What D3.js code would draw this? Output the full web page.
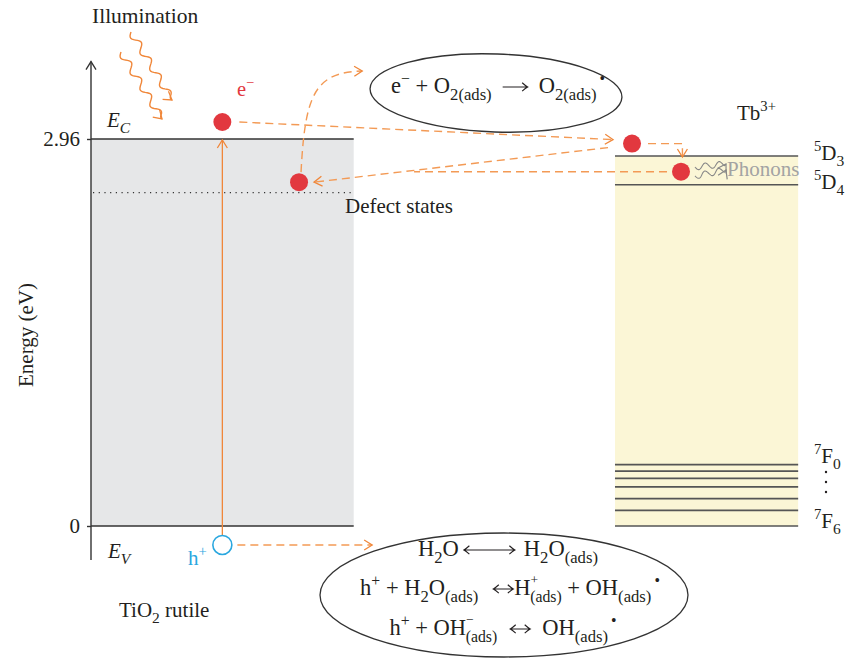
<!DOCTYPE html>
<html><head><meta charset="utf-8">
<script src="https://cdn.jsdelivr.net/npm/d3@7"></script>
<style>
html,body{margin:0;padding:0;background:#fff;}
svg text{font-family:"Liberation Serif","DejaVu Serif",serif;white-space:pre;}
</style></head>
<body><svg id="c" width="848" height="660"></svg>
<script>
// ---------------- data ----------------
const axisTicks = [0, 2.96];               // E_V, E_C (eV)
const axisRange = [-0.26, 3.56];
const defectLevel = 2.55;                   // defect states (dotted)
const tbExcited = [2.83, 2.61];             // 5D3, 5D4
const tbGround = [0.47, 0.42, 0.365, 0.30, 0.21, 0.12, 0]; // 7F0 ... 7F6
const electrons = [                         // x in diagram units, energy in eV
  {name: "CB", x: 18.5, E: 3.09},
  {name: "defect", x: 29.3, E: 2.63},
  {name: "Tb5D3", x: 76.2, E: 2.925},
  {name: "Tb5D4", x: 83.1, E: 2.71}
];
const hole = {x: 18.5, E: -0.145};
const tio2Band = [0, 37];                   // x extent of TiO2 band
const tbBand = [73.8, 99.6];                // x extent of Tb3+ box

// ---------------- scales ----------------
const svg = d3.select("#c");
const y = d3.scaleLinear().domain([0, 2.96]).range([526, 139]);
const x = d3.scaleLinear().domain([0, 100]).range([91, 801]);

const ORANGE = "#f0873a", DASH = "#f39a55", RED = "#e2383f", BLUE = "#2aa7df", INK = "#231f20";

// markers
const defs = svg.append("defs");
function chevron(id, color, w) {
  defs.append("marker").attr("id", id).attr("markerUnits", "userSpaceOnUse")
    .attr("viewBox", "-10 -6 12 12").attr("refX", 0).attr("refY", 0)
    .attr("markerWidth", 12).attr("markerHeight", 12).attr("orient", "auto")
    .append("path").attr("d", "M-8,-5 L0,0 L-8,5").attr("fill", "none")
    .attr("stroke", color).attr("stroke-width", w || 1.3).attr("stroke-dasharray", "none");
}
chevron("arO", ORANGE); chevron("arK", "#333", 1.3); chevron("arG", "#888", 1.2);

// ---------------- TiO2 band ----------------
svg.append("rect").attr("x", x(tio2Band[0])).attr("width", x(tio2Band[1]) - x(tio2Band[0]))
  .attr("y", y(axisTicks[1])).attr("height", y(axisTicks[0]) - y(axisTicks[1]))
  .attr("fill", "#e6e7e8");
svg.selectAll("line.edge").data(axisTicks).join("line").attr("class", "edge")
  .attr("x1", x(tio2Band[0])).attr("x2", x(tio2Band[1]))
  .attr("y1", d => y(d)).attr("y2", d => y(d)).attr("stroke", "#333").attr("stroke-width", 1.5);
svg.append("line").attr("x1", x(tio2Band[0]) + 2).attr("x2", x(tio2Band[1]))
  .attr("y1", y(defectLevel)).attr("y2", y(defectLevel))
  .attr("stroke", "#333").attr("stroke-width", 1.3).attr("stroke-dasharray", "1.2,4.5");

// ---------------- Tb3+ box ----------------
svg.append("rect").attr("x", x(tbBand[0])).attr("width", x(tbBand[1]) - x(tbBand[0]))
  .attr("y", y(tbExcited[0])).attr("height", y(0) - y(tbExcited[0])).attr("fill", "#fbf6d6");
svg.selectAll("line.tb").data(tbExcited.concat(tbGround)).join("line").attr("class", "tb")
  .attr("x1", x(tbBand[0])).attr("x2", x(tbBand[1]))
  .attr("y1", d => y(d)).attr("y2", d => y(d)).attr("stroke", "#555").attr("stroke-width", 1.7);

// ---------------- axis ----------------
const ax = svg.append("g").attr("transform", `translate(${x(0)},0)`)
  .call(d3.axisLeft(y).tickValues(axisTicks).tickSize(4).tickPadding(7)
    .tickFormat(d => d === 0 ? "0" : d3.format(".2f")(d)));
ax.select(".domain").remove();
ax.selectAll(".tick line").attr("stroke", "#333").attr("stroke-width", 1.4);
ax.selectAll(".tick text").attr("font-size", 21).attr("fill", INK)
  .attr("font-family", "Liberation Serif, serif");
svg.append("line").attr("x1", x(0)).attr("x2", x(0))
  .attr("y1", y(axisRange[0])).attr("y2", y(axisRange[1]) + 1)
  .attr("stroke", "#333").attr("stroke-width", 1.4).attr("marker-end", "url(#arK)");

// ---------------- rich text helper ----------------
// part: string | [text, mode, dx, style] ; gap part: ["", "gap", gapWidth, arrowType, start, length]
function rich(x0, y0, parts, o = {}) {
  const size = o.size || 20.5;
  const t = svg.append("text").attr("x", x0).attr("y", y0).attr("font-size", size)
    .attr("text-anchor", o.anchor || "start").attr("fill", o.fill || INK);
  if (o.transform) t.attr("transform", o.transform);
  let cur = 0, pending = 0, last = null;
  const gaps = [];
  parts.forEach(p => {
    const [txt, mode, dx, style, s0, len] = typeof p === "string" ? [p, ""] : p;
    if (mode === "gap") { pending += dx; gaps.push({prev: last, type: style, s0, len}); return; }
    let off = 0, fs = size;
    if (mode === "sub") { off = size * 0.3; fs = size * 0.74; }
    if (mode === "sup") { off = -size * 0.42; fs = size * 0.7; }
    if (mode === "sub2") { off = size * 0.33; fs = size * 0.7; }
    if (mode === "sup2") { off = -size * 0.47; fs = size * 0.6; }
    const ts = t.append("tspan").text(txt).attr("font-size", fs).attr("dy", off - cur);
    const d = (dx || 0) + pending; pending = 0;
    if (d) ts.attr("dx", d);
    if (style === "i") ts.attr("font-style", "italic");
    cur = off; last = ts.node();
  });
  // draw arrows in gaps
  gaps.forEach(g => {
    const b = g.prev.getBBox();
    const xa = b.x + b.width + g.s0, xb = xa + g.len, ya = y0 - size * 0.27;
    const h = 4.2, w = 5.5;
    let d = `M${xa},${ya}L${xb},${ya}`;
    d += `M${xb - w},${ya - h}Q${xb - 2},${ya - 1} ${xb},${ya}Q${xb - 2},${ya + 1} ${xb - w},${ya + h}`;
    if (g.type === "lr") d += `M${xa + w},${ya - h}Q${xa + 2},${ya - 1} ${xa},${ya}Q${xa + 2},${ya + 1} ${xa + w},${ya + h}`;
    svg.append("path").attr("d", d).attr("fill", "none").attr("stroke", INK).attr("stroke-width", 1.1);
  });
  return t;
}

// ---------------- arrows / transitions ----------------
const line = d3.line();
function wavy(x0, y0, x1, y1, amp, wl) {
  const L = Math.hypot(x1 - x0, y1 - y0), ux = (x1 - x0) / L, uy = (y1 - y0) / L;
  const pts = d3.range(0, 61).map(i => {
    const s = L * i / 60, w = amp * Math.sin(2 * Math.PI * s / wl) * (i < 56 ? 1 : (60 - i) / 4);
    return [x0 + ux * s - uy * w, y0 + uy * s + ux * w];
  });
  return line(pts);
}
// illumination
svg.append("path").attr("d", wavy(121, 52, 162, 119, 3.5, 19)).attr("fill", "none")
  .attr("stroke", ORANGE).attr("stroke-width", 1.4).attr("marker-end", "url(#arO)");
svg.append("path").attr("d", wavy(131, 32, 172, 100, 3.5, 19)).attr("fill", "none")
  .attr("stroke", ORANGE).attr("stroke-width", 1.4).attr("marker-end", "url(#arO)");

const eCB = electrons[0], eDef = electrons[1], eT1 = electrons[2], eT2 = electrons[3];
// excitation arrow
svg.append("line").attr("x1", x(hole.x)).attr("x2", x(eCB.x))
  .attr("y1", y(hole.E) - 10).attr("y2", y(axisTicks[1]) + 1)
  .attr("stroke", ORANGE).attr("stroke-width", 1.3).attr("marker-end", "url(#arO)");

function dashed(d, arrow) {
  const p = svg.append("path").attr("d", d).attr("fill", "none").attr("stroke", DASH)
    .attr("stroke-width", 1.4).attr("stroke-dasharray", "8,5");
  if (arrow) p.attr("marker-end", "url(#arO)");
}
// CB electron -> Tb 5D3 electron
dashed(line([[x(eCB.x) + 17, y(eCB.E)], [x(eT1.x) - 19, y(eT1.E) - 4]]), true);
// Tb -> defect
dashed(line([[x(eT1.x) - 24, y(eT1.E) + 4], [x(eDef.x) + 15, y(eDef.E)]]), true);
dashed(line([[x(eT2.x) - 14, y(eT2.E)], [x(45.5), y(eT2.E)]]), false);
// 5D3 -> 5D4 relaxation
dashed(line([[x(eT1.x) + 16, y(eT1.E)], [x(83.3), y(eT1.E)], [x(83.3), y(tbExcited[0]) + 1]]), true);
// defect -> O2
dashed(`M${x(eDef.x) + 2},${y(eDef.E) - 10} C${x(eDef.x) + 6},${y(3.3)} ${x(31.5)},${y(3.47)} ${x(38.2)},${y(3.48)}`, true);
// hole -> water
dashed(line([[x(hole.x) + 15, y(hole.E)], [x(39.6), y(hole.E)]]), true);

// phonons
svg.append("path").attr("d", wavy(695, 167, 726, 164, 3, 14)).attr("fill", "none")
  .attr("stroke", "#888").attr("stroke-width", 1.1).attr("marker-end", "url(#arG)");
svg.append("path").attr("d", wavy(695, 176, 726, 170, 3, 14)).attr("fill", "none")
  .attr("stroke", "#888").attr("stroke-width", 1.1).attr("marker-end", "url(#arG)");

// carriers
svg.selectAll("circle.e").data(electrons).join("circle").attr("class", "e")
  .attr("cx", d => x(d.x)).attr("cy", d => y(d.E)).attr("r", 9).attr("fill", RED);
svg.append("circle").attr("cx", x(hole.x)).attr("cy", y(hole.E)).attr("r", 9.5)
  .attr("fill", "#fff").attr("stroke", BLUE).attr("stroke-width", 1.6);

// ellipses
svg.append("ellipse").attr("cx", 0).attr("cy", 0).attr("rx", 126).attr("ry", 39)
  .attr("transform", "translate(496,93) rotate(2)")
  .attr("fill", "none").attr("stroke", "#333").attr("stroke-width", 1.3);
svg.append("ellipse").attr("cx", 504).attr("cy", 595).attr("rx", 184).attr("ry", 62)
  .attr("fill", "none").attr("stroke", "#333").attr("stroke-width", 1.3);

// ---------------- labels ----------------
rich(92, 23, ["Illumination"], {size: 21.5});
rich(237, 96, [["e", ""], ["\u2212", "sup"]], {fill: RED});
rich(107, 127, [["E", "", 0, "i"], ["C", "sub", 0, "i"]], {size: 21});
rich(108, 558, [["E", "", 0, "i"], ["V", "sub", 0, "i"]], {size: 21});
rich(188, 565, [["h", ""], ["+", "sup"]], {fill: BLUE, size: 21});
rich(119, 617, [["TiO", ""], ["2", "sub"], [" rutile", ""]], {size: 21});
rich(345, 213, ["Defect states"], {size: 21});
rich(33, 335, ["Energy (eV)"], {anchor: "middle", transform: "rotate(-90,33,335)", size: 21});
rich(737, 120, [["Tb", ""], ["3+", "sup"]], {size: 21});
rich(727, 176, ["Phonons"], {fill: "#a3a3a3", size: 21});
rich(814, 160, [["5", "sup"], ["D", ""], ["3", "sub"]], {size: 21});
rich(814, 189, [["5", "sup"], ["D", ""], ["4", "sub"]], {size: 21});
rich(814, 463, [["7", "sup"], ["F", ""], ["0", "sub"]], {size: 21});
rich(814, 528, [["7", "sup"], ["F", ""], ["6", "sub"]], {size: 21});
svg.selectAll("circle.dot").data([472, 482, 492]).join("circle").attr("class", "dot")
  .attr("cx", 826).attr("cy", d => d).attr("r", 1.2).attr("fill", INK);

const EQ = {anchor: "middle", size: 22.5};
rich(498, 93, [["e", ""], ["\u2212", "sup"], [" + O", ""], ["2(ads)", "sub"],
  ["", "gap", 47, "r", 11, 25], ["O", ""], ["2(ads)", "sub"], ["\u2022", "sup", 3]], EQ);
rich(508, 556, [["H", ""], ["2", "sub"], ["O", ""], ["", "gap", 65, "lr", 5, 51],
  ["H", ""], ["2", "sub"], ["O", ""], ["(ads)", "sub"]], EQ);
rich(510, 595, [["h", ""], ["+", "sup"], [" + H", ""], ["2", "sub"], ["O", ""], ["(ads)", "sub"],
  ["", "gap", 36, "lr", 15, 20], ["H", ""], ["+", "sup2"], ["(ads)", "sub2", -8],
  [" + OH", ""], ["(ads)", "sub"], ["\u2022", "sup", 3]], EQ);
rich(503, 635, [["h", ""], ["+", "sup"], [" + OH", ""], ["\u2212", "sup2"], ["(ads)", "sub2", -8],
  ["", "gap", 45, "lr", 13, 20], ["OH", ""], ["(ads)", "sub"], ["\u2022", "sup", 3]], EQ);
</script></body></html>
